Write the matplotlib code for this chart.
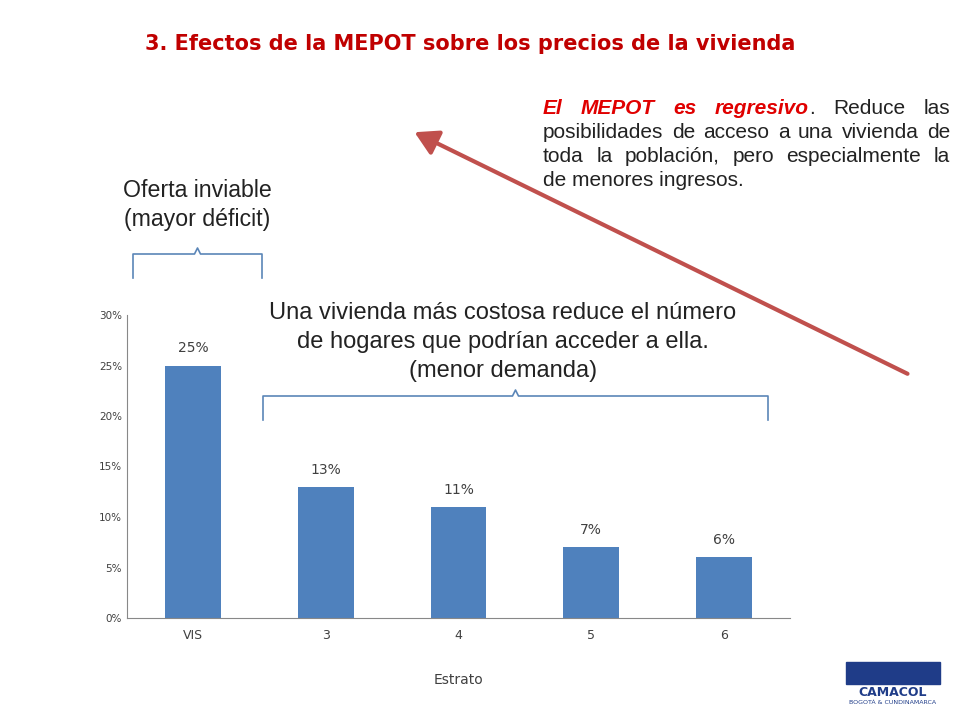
import matplotlib
matplotlib.use("Agg")
import matplotlib.pyplot as plt
from matplotlib import font_manager
from matplotlib.patches import FancyArrowPatch, Rectangle

categories = ["VIS", "3", "4", "5", "6"]
values = [25, 13, 11, 7, 6]
labels = ["25%", "13%", "11%", "7%", "6%"]
yticks = [0, 5, 10, 15, 20, 25, 30]

reg = [f for f in font_manager.findSystemFonts() if f.endswith("LiberationSans-Regular.ttf")]
bi = [f for f in font_manager.findSystemFonts() if f.endswith("LiberationSans-BoldItalic.ttf")]
FP = font_manager.FontProperties(fname=reg[0]) if reg else font_manager.FontProperties(family="Liberation Sans")
FPBI = font_manager.FontProperties(fname=bi[0]) if bi else font_manager.FontProperties(family="Liberation Sans", weight="bold", style="italic")

fig = plt.figure(figsize=(9.6, 7.2), dpi=100)
W, H = 960, 720
def fx(x): return x / W
def fy(y): return 1 - y / H

def fp(size, bold_italic=False):
    p = (FPBI if bold_italic else FP).copy()
    p.set_size(size)
    return p

ax = fig.add_axes([fx(127), fy(618), fx(790) - fx(127), fy(315) - fy(618)])
ax.bar(range(len(values)), values, width=0.42, color="#4f81bd")
for i, (v, l) in enumerate(zip(values, labels)):
    ax.text(i, v + 1.0, l, ha="center", va="bottom", fontsize=10, color="#404040")
ax.set_xlim(-0.5, 4.5)
ax.set_ylim(0, 30)
ax.set_yticks(yticks)
ax.set_yticklabels([f"{t}%" for t in yticks], fontsize=7.5, color="#404040")
ax.set_xticks(range(len(categories)))
ax.set_xticklabels(categories, fontsize=9, color="#404040")
for s in ["top", "right"]:
    ax.spines[s].set_visible(False)
for s in ["left", "bottom"]:
    ax.spines[s].set_color("#888888")
ax.tick_params(axis="x", length=0, pad=8)
ax.tick_params(axis="y", length=0)
ax.set_xlabel("Estrato", fontsize=10, color="#404040", labelpad=22)

fig.text(fx(470), fy(44), "3. Efectos de la MEPOT sobre los precios de la vivienda",
         ha="center", va="center", fontsize=15, color="#c00000", fontweight="bold")

fig.text(fx(197), fy(205), "Oferta inviable\n(mayor déficit)", ha="center", va="center",
         multialignment="center", fontproperties=fp(16.7), color="#222222", linespacing=1.3)
fig.text(fx(503), fy(342), "Una vivienda más costosa reduce el número\nde hogares que podrían acceder a ella.\n(menor demanda)",
         ha="center", va="center", multialignment="center", fontproperties=fp(17), color="#222222", linespacing=1.4)

renderer = fig.canvas.get_renderer()
x0, x1 = 543, 950
lines = [
    [("El", "r"), ("MEPOT", "r"), ("es", "r"), ("regresivo", "r+."), ("Reduce", "n"), ("las", "n")],
    [(w, "n") for w in "posibilidades de acceso a una vivienda de".split()],
    [(w, "n") for w in "toda la población, pero especialmente la".split()],
]
fs = 15
for k, line in enumerate(lines):
    y = fy(108 + 24 * k)
    arts = []
    widths = []
    for w, kind in line:
        if kind.startswith("r"):
            a = fig.text(0, y, w, fontproperties=fp(fs, True), color="#e00000", va="center")
            arts.append([a])
            wdt = a.get_window_extent(renderer).width
            if kind == "r+.":
                b = fig.text(0, y, ".", fontproperties=fp(fs), color="#222222", va="center")
                arts[-1].append(b)
                wdt += b.get_window_extent(renderer).width
            widths.append(wdt)
        else:
            a = fig.text(0, y, w, fontproperties=fp(fs), color="#222222", va="center")
            arts.append([a])
            widths.append(a.get_window_extent(renderer).width)
    gap = ((x1 - x0) - sum(widths)) / (len(widths) - 1)
    x = x0
    for group, wdt in zip(arts, widths):
        xx = x
        for a in group:
            a.set_x(fx(xx))
            xx += a.get_window_extent(renderer).width
        x += wdt + gap
fig.text(fx(x0), fy(108 + 72), "de menores ingresos.", fontproperties=fp(fs), color="#222222", va="center")

def brace(x0, x1, ytop, ybot):
    xm = (x0 + x1) / 2
    xs = [x0, x0, xm - 3, xm, xm + 3, x1, x1]
    ys = [ybot, ytop + 6, ytop + 6, ytop, ytop + 6, ytop + 6, ybot]
    fig.add_artist(plt.Line2D([fx(x) for x in xs], [fy(y) for y in ys],
                              color="#5b86b8", lw=1.2, transform=fig.transFigure))
brace(133, 262, 248, 278)
brace(263, 768, 390, 420)

arr = FancyArrowPatch((fx(910), fy(375)), (fx(412), fy(131)), transform=fig.transFigure,
                      arrowstyle="-|>,head_length=14,head_width=8", color="#c0504d", lw=3)
fig.add_artist(arr)

fig.add_artist(Rectangle((fx(846), fy(684)), fx(94), fy(662) - fy(684),
                         transform=fig.transFigure, color="#1f3c88"))
fig.text(fx(893), fy(692), "CAMACOL", ha="center", va="center", fontsize=9,
         color="#1f3c88", fontweight="bold")
fig.text(fx(893), fy(702), "BOGOTÁ & CUNDINAMARCA", ha="center", va="center", fontsize=4.5,
         color="#1f3c88")

fig.savefig("out.png", dpi=100)
